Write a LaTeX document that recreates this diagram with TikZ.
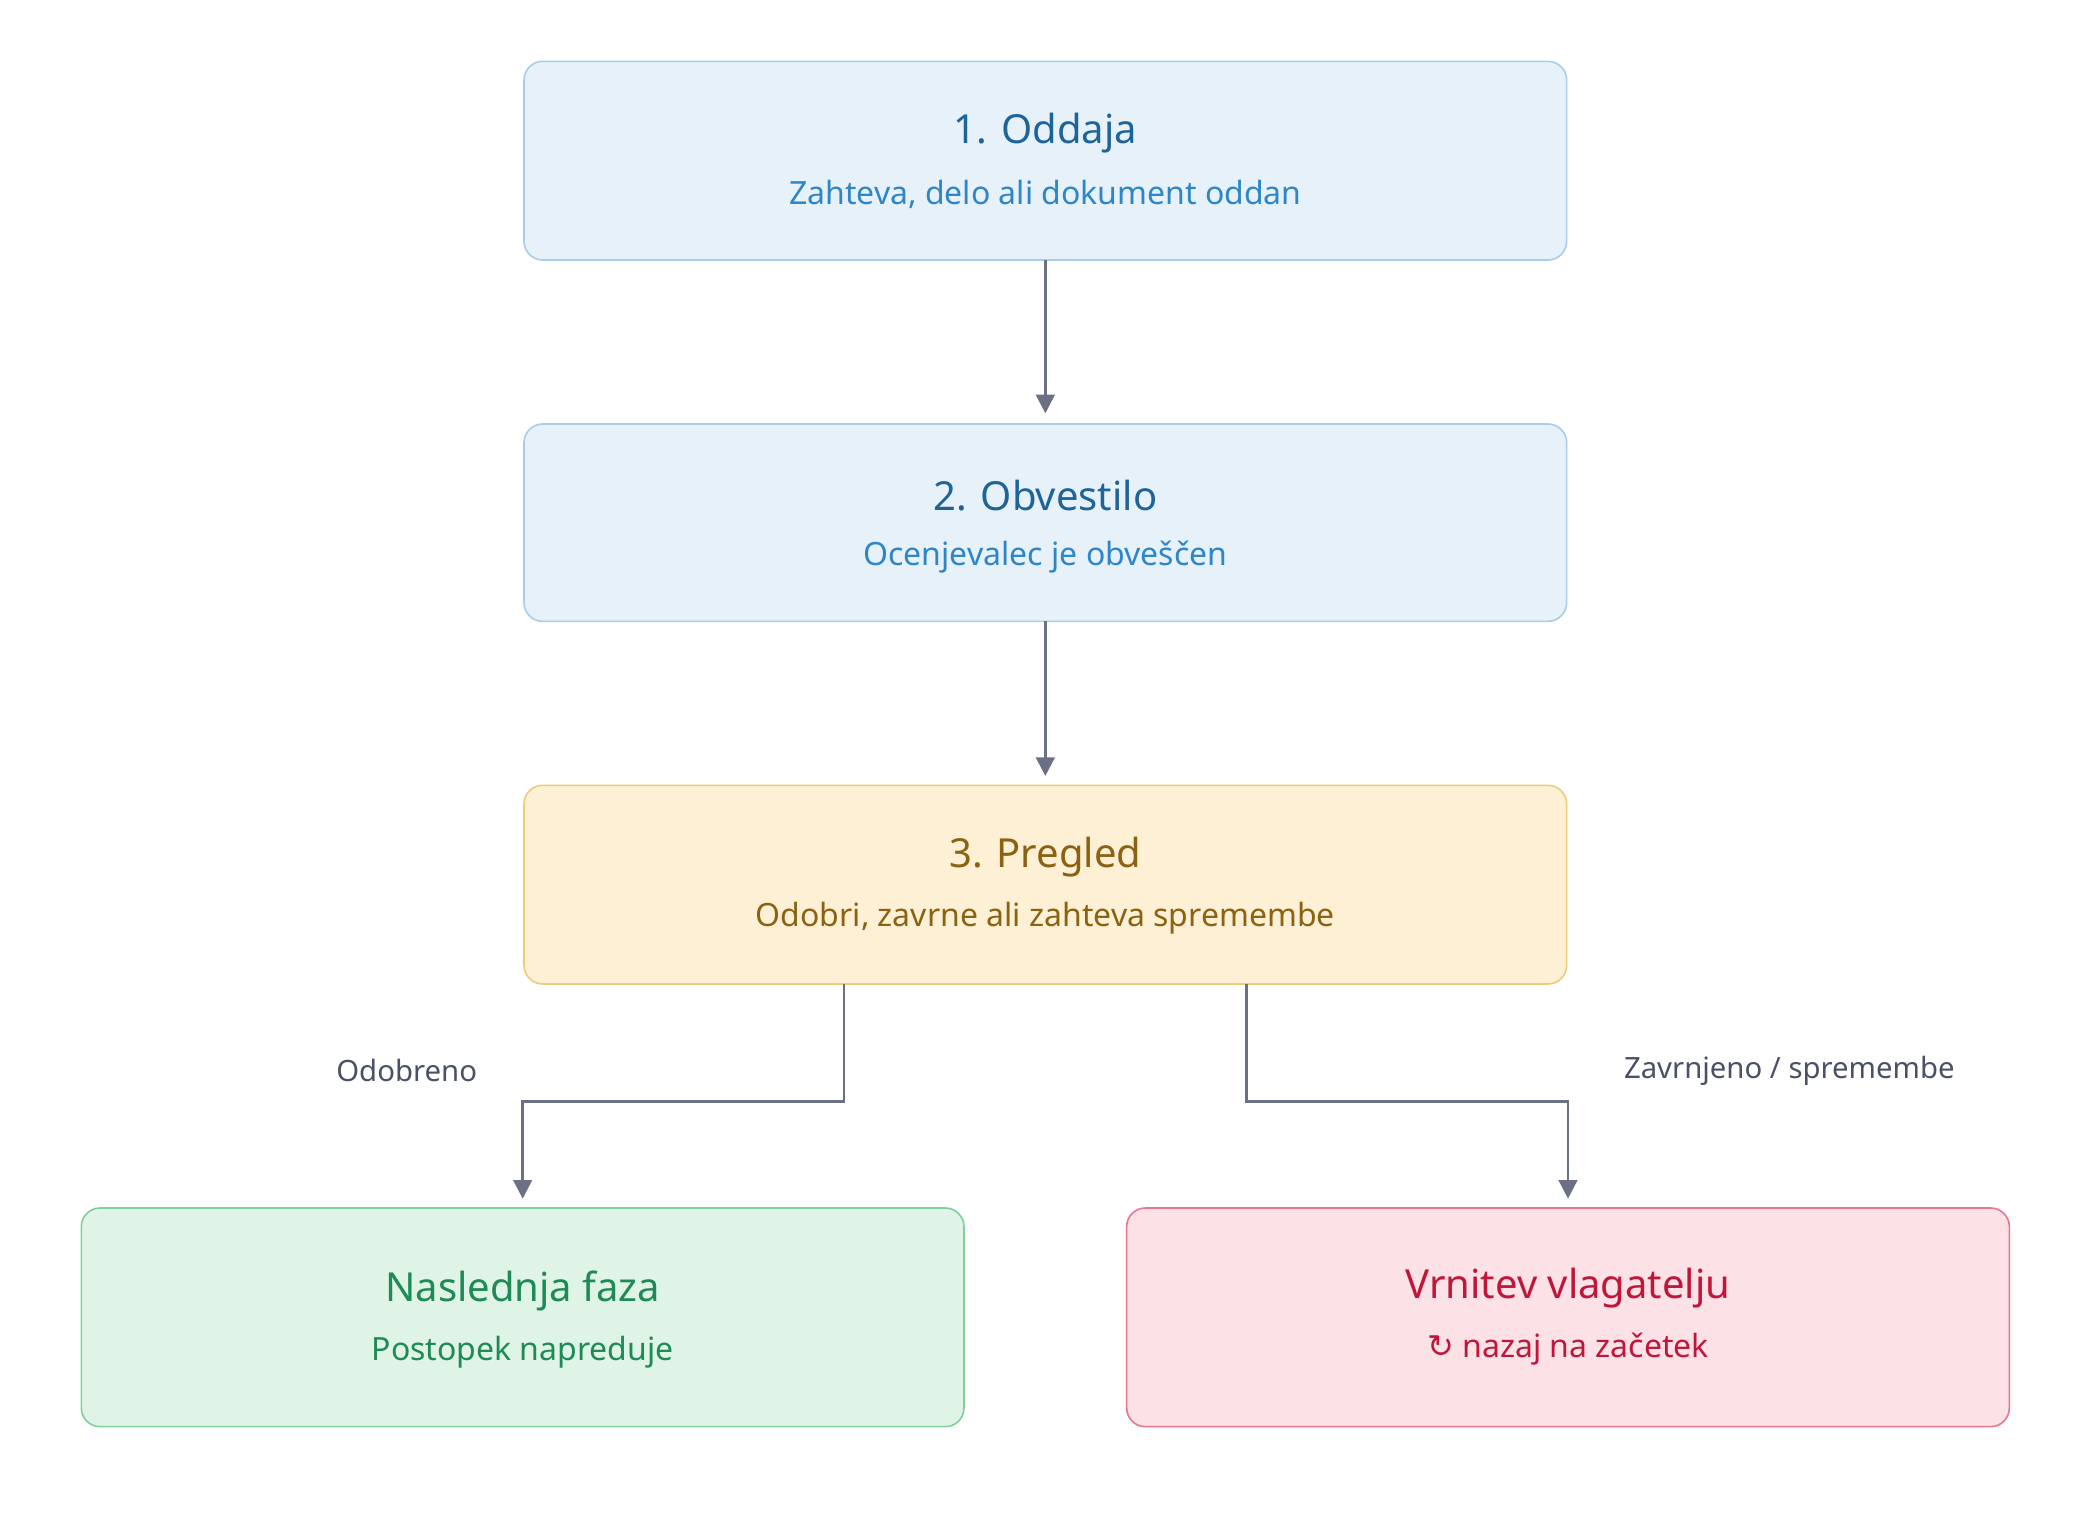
\documentclass[tikz,border=0pt]{standalone}
\usepackage{fontspec}
\setmainfont{Noto Sans}
\newfontfamily\symf{DejaVu Sans}
\usetikzlibrary{arrows.meta}
\definecolor{bfill}{HTML}{E6F1F9}\definecolor{bdraw}{HTML}{A7CDE8}
\definecolor{btit}{HTML}{1F6498}\definecolor{bsub}{HTML}{2E86C8}
\definecolor{yfill}{HTML}{FEF0D5}\definecolor{ydraw}{HTML}{EDCB7A}\definecolor{ytxt}{HTML}{8A6212}
\definecolor{gfill}{HTML}{DFF3E6}\definecolor{gdraw}{HTML}{7FCF9D}\definecolor{gtxt}{HTML}{1E8A55}
\definecolor{rfill}{HTML}{FCE1E6}\definecolor{rdraw}{HTML}{E8768C}\definecolor{rtxt}{HTML}{C0163A}
\definecolor{arr}{HTML}{6B7085}\definecolor{lab}{HTML}{4A5068}
\begin{document}
\begin{tikzpicture}[x=0.5pt,y=-0.5pt,
 box/.style={rounded corners=7pt,line width=0.6pt},
 tit/.style={font=\fontsize{15}{18}\selectfont\bfseries},
 sub/.style={font=\fontsize{12}{14}\selectfont},
 lbl/.style={font=\fontsize{11}{13}\selectfont,text=lab},
 con/.style={draw=arr,line width=1pt,-{Triangle[length=7pt,width=7pt]}}]
\useasboundingbox (0,0) rectangle (1560,1140);
\draw[box,fill=bfill,draw=bdraw] (393,46) rectangle (1175,195) coordinate (b1c);
\node[tit,text=btit] (t1) at (784,100) {1. Oddaja};
\node[sub,text=bsub] (s1) at (784,146) {Zahteva, delo ali dokument oddan};
\draw[box,fill=bfill,draw=bdraw] (393,318) rectangle (1175,466);
\node[tit,text=btit] (t2) at (784,372) {2. Obvestilo};
\node[sub,text=bsub] (s2) at (784,418) {Ocenjevalec je obveščen};
\draw[box,fill=yfill,draw=ydraw] (393,589) rectangle (1175,738);
\node[tit,text=ytxt] (t3) at (784,643) {3. Pregled};
\node[sub,text=ytxt] (s3) at (784,689) {Odobri, zavrne ali zahteva spremembe};
\draw[box,fill=gfill,draw=gdraw] (61,906) rectangle (723,1070);
\node[tit,text=gtxt] (t4) at (392,968) {Naslednja faza};
\node[sub,text=gtxt] (s4) at (392,1014) {Postopek napreduje};
\draw[box,fill=rfill,draw=rdraw] (845,906) rectangle (1507,1070);
\node[tit,text=rtxt] (t5) at (1176,966) {Vrnitev vlagatelju};
\node[sub,text=rtxt] (s5) at (1176,1012) {{\symf ↻} nazaj na začetek};
\coordinate (a1) at (784,195); \coordinate (a2) at (784,310);
\coordinate (a3) at (784,466); \coordinate (a4) at (784,582);
\coordinate (l0) at (633,738); \coordinate (l1) at (392,899);
\coordinate (r0) at (935,738); \coordinate (r1) at (1176,899);
\draw[con] (a1) -- (a2);
\draw[con] (a3) -- (a4);
\draw[con] (l0) -- (633,826) -| (l1);
\draw[con] (r0) -- (935,826) -| (r1);
\node[lbl] (o) at (305,803) {Odobreno};
\node[lbl] (z) at (1342,803) {Zavrnjeno / spremembe};
\end{tikzpicture}
\end{document}
